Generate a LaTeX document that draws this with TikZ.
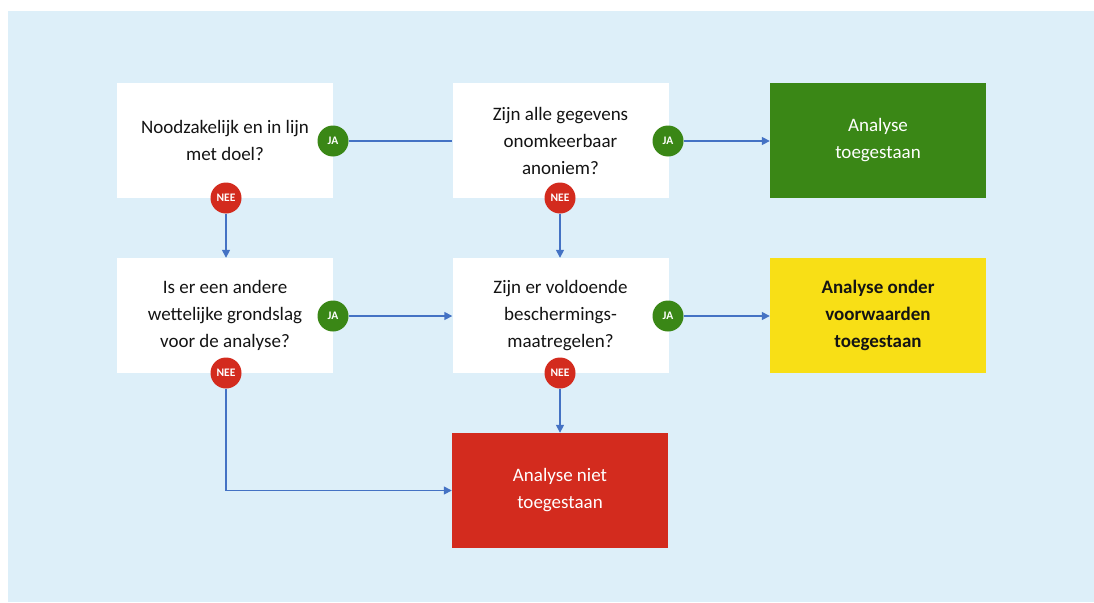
\documentclass[tikz,border=0pt]{standalone}
\usepackage{fontspec}
\setmainfont{Carlito}
\usetikzlibrary{arrows.meta}
\definecolor{bgblue}{RGB}{221,239,249}
\definecolor{okgreen}{RGB}{58,135,22}
\definecolor{warnyellow}{RGB}{248,223,22}
\definecolor{nored}{RGB}{211,43,30}
\definecolor{arrowblue}{RGB}{68,114,196}
\definecolor{textdark}{RGB}{20,20,20}
\tikzset{
  qbox/.style={fill=white, minimum width=216pt, minimum height=115pt, inner sep=0pt,
    align=center, font=\fontsize{19}{27}\selectfont, text=textdark},
  rbox/.style={qbox, text=white},
  yesbadge/.style={circle, fill=okgreen, minimum size=31pt, inner sep=0pt,
    text=white, font=\fontsize{11.5}{12}\selectfont\bfseries},
  nobadge/.style={yesbadge, fill=nored},
  flow/.style={draw=arrowblue, line width=1.5pt, -{Triangle[length=8pt,width=8pt]}},
  flowplain/.style={draw=arrowblue, line width=1.5pt}
}
\begin{document}
\begin{tikzpicture}[x=1pt,y=-1pt]
\useasboundingbox (0,0) rectangle (1094,602);
\fill[bgblue] (8,11) rectangle (1094,602);
% question boxes
\node[qbox] (q1) at (225,140.5) {Noodzakelijk en in lijn\\met doel?};
\node[qbox] (q2) at (560.5,140.5) {Zijn alle gegevens\\onomkeerbaar\\anoniem?};
\node[qbox] (q3) at (225,315.5) {Is er een andere\\wettelijke grondslag\\voor de analyse?};
\node[qbox] (q4) at (560.5,315.5) {Zijn er voldoende\\beschermings-\\maatregelen?};
% result boxes
\node[rbox, fill=okgreen] (r1) at (878,140.5) {Analyse\\toegestaan};
\node[qbox, fill=warnyellow, font=\fontsize{19}{27}\selectfont\bfseries] (r2) at (878,315.5) {Analyse onder\\voorwaarden\\toegestaan};
\node[rbox, fill=nored] (r3) at (560,490.5) {Analyse niet\\toegestaan};
% badges
\node[yesbadge] (j1) at (333,141) {JA};
\node[yesbadge] (j2) at (668,141) {JA};
\node[yesbadge] (j3) at (333,316) {JA};
\node[yesbadge] (j4) at (668,316) {JA};
\node[nobadge] (n1) at (226,198) {NEE};
\node[nobadge] (n2) at (560,198) {NEE};
\node[nobadge] (n3) at (226,373) {NEE};
\node[nobadge] (n4) at (560,373) {NEE};
\coordinate (corner) at (226,490.5);
% connectors
\draw[flowplain] (j1) -- (q2.west |- j1);
\draw[flow] (j2) -- (r1.west |- j2);
\draw[flow] (j3) -- (q4.west |- j3);
\draw[flow] (j4) -- (r2.west |- j4);
\draw[flow] (n1) -- (q3.north -| n1);
\draw[flow] (n2) -- (q4.north -| n2);
\draw[flow] (n4) -- (r3.north -| n4);
\draw[flow] (n3) -- (corner) -- (r3.west);
\end{tikzpicture}
\end{document}
